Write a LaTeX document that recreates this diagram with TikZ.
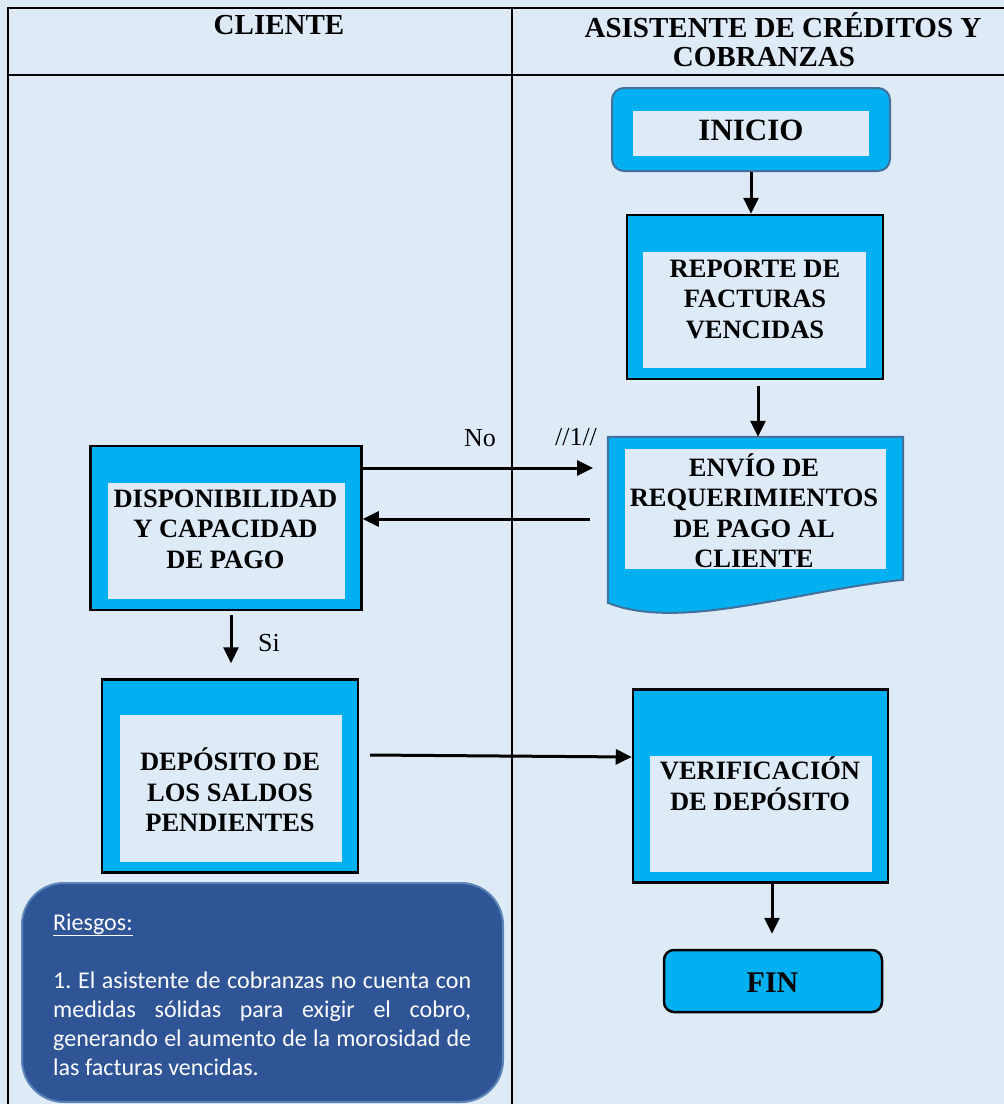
\documentclass[tikz,border=0pt]{standalone}
\usepackage{fontspec}
\setmainfont{Liberation Serif}
\newfontfamily\calib{Carlito}
\usetikzlibrary{arrows.meta,calc}
\definecolor{bgblue}{HTML}{DEEBF7}
\definecolor{cyanbox}{HTML}{00B0F0}
\definecolor{edgeblue}{HTML}{41719C}
\definecolor{riskfill}{HTML}{2F5597}
\definecolor{riskedge}{HTML}{5B85B8}
\frenchspacing
\begin{document}
\begin{tikzpicture}[x=1pt,y=-1pt,
  procbox/.style={rectangle, draw=black, line width=2.5pt, fill=cyanbox, inner sep=0pt},
  termbox/.style={rectangle, rounded corners=12pt, draw=edgeblue, line width=2pt, fill=cyanbox, inner sep=0pt},
  finbox/.style={rectangle, rounded corners=10pt, draw=black, line width=2.5pt, fill=cyanbox, inner sep=0pt},
  docshape/.style={draw=edgeblue, line width=2pt, fill=cyanbox},
  holder/.style={rectangle, draw=none, inner sep=0pt},
  innerfill/.style={fill=bgblue},
  boxtext/.style={font=\fontsize{26.5}{30.5}\selectfont\bfseries, align=center, inner sep=0pt},
  header/.style={font=\fontsize{29}{32}\selectfont\bfseries, align=center, inner sep=0pt},
  lbl/.style={font=\fontsize{26}{30}\selectfont, inner sep=0pt},
  flow/.style={line width=3pt, -{Triangle[length=16pt,width=15pt]}},
  tableline/.style={line width=2pt, draw=black},
  riskbox/.style={rectangle, rounded corners=42pt, draw=riskedge, line width=2pt, fill=riskfill, inner sep=0pt},
  risktext/.style={font=\calib\fontsize{24}{29}\selectfont, text=white, inner sep=0pt}
]
% background and frame
\fill[bgblue] (0,0) rectangle (1004,1104);
\useasboundingbox (0,0) rectangle (1004,1104);
\draw[tableline] (8,1104) -- (8,8) -- (1004,8);
\draw[tableline] (8,75) -- (1004,75);
\draw[line width=1.6pt] (512,8) -- (512,1104);

% headers
\node[header] (hcli) at (279,25) {CLIENTE};
\node[header] (hasi1) at (783,25) {ASISTENTE DE CRÉDITOS Y};
\node[header] (hasi2) at (764,57) {COBRANZAS};

% INICIO
\node[termbox, minimum width=278pt, minimum height=83pt] (inicio) at (751,129.5) {};
\fill[innerfill] (633,111) rectangle (869,156);
\node[font=\fontsize{31}{34}\selectfont\bfseries, inner sep=0pt] (inicioT) at (751,130) {INICIO};

% REPORTE
\node[procbox, minimum width=256pt, minimum height=164pt] (rep) at (755,297) {};
\fill[innerfill] (643,252) rectangle (866,368);
\node[boxtext] (repT) at (755,299) {REPORTE DE\\FACTURAS\\VENCIDAS};

% ENVIO (document)
\node[holder, minimum width=295pt, minimum height=172pt] (env) at (755.5,523) {};
\draw[docshape] (env.north west) -- (env.north east) -- ($(env.north east)+(0,143)$)
  .. controls ($(env.north east)+(-103,153)$) and ($(env.north west)+(72,195)$) .. ($(env.north west)+(0,166)$) -- cycle;
\fill[innerfill] (625,449) rectangle (886,569);
\node[boxtext] (envT) at (754,511) {ENVÍO DE\\REQUERIMIENTOS\\DE PAGO AL\\CLIENTE};

% DISPONIBILIDAD
\node[procbox, minimum width=271pt, minimum height=164pt] (disp) at (226,528) {};
\fill[innerfill] (108,483) rectangle (345,599);
\node[boxtext] (dispT) at (225.5,529) {DISPONIBILIDAD\\Y CAPACIDAD\\DE PAGO};

% DEPOSITO
\node[procbox, minimum width=256pt, minimum height=193pt] (dep) at (230,776) {};
\fill[innerfill] (120,715) rectangle (342,862);
\node[boxtext] (depT) at (230,790) {DEPÓSITO DE\\LOS SALDOS\\PENDIENTES};

% VERIFICACION
\node[procbox, minimum width=255pt, minimum height=193pt] (ver) at (760.5,786) {};
\fill[innerfill] (650,756) rectangle (872,872);
\node[boxtext] (verT) at (760,784) {VERIFICACIÓN\\DE DEPÓSITO};

% FIN
\node[finbox, minimum width=218pt, minimum height=62pt] (fin) at (773,981) {};
\node[font=\fontsize{30}{33}\selectfont\bfseries, inner sep=0pt] (finT) at (772.5,983) {FIN};

% connectors
\coordinate (noEnd) at (593,468);
\coordinate (backStart) at (590,519);
\coordinate (depStart) at (370,755);
\draw[flow] (inicio.south) -- (inicio.south |- rep.north);
\draw[flow] ($(rep.south)+(3,6)$) -- ($(rep.south |- env.north)+(3,0)$);
\draw[flow] (disp.east |- noEnd) -- (noEnd);
\draw[flow] (backStart) -- (backStart -| disp.east);
\draw[flow] ($(disp.south)+(5,4)$) -- ($(dep.north)+(1,-15)$);
\draw[flow] (depStart) -- ($(ver.west |- depStart)+(0,2)$);
\draw[flow] ($(ver.south)+(11.5,0)$) -- ($(ver.south |- fin.north)+(11.5,-15)$);

% labels
\node[lbl] (noL) at (480,438) {No};
\node[lbl] (refL) at (576,437) {//1//};
\node[lbl] (siL) at (269,643) {Si};

% Riesgos
\node[riskbox, minimum width=481pt, minimum height=219pt] (riesgos) at (262.5,992.5) {};
\node[risktext, anchor=base west] (riesgosT) at (53,930) {\underline{Riesgos:}};
\node[risktext, anchor=base west, text width=418pt, align=justify] (riesgosP) at (53,988)
  {1. El asistente de cobranzas no cuenta con\linebreak medidas sólidas para exigir el cobro,\linebreak generando el aumento de la morosidad de\linebreak las facturas vencidas.};
\end{tikzpicture}
\end{document}
